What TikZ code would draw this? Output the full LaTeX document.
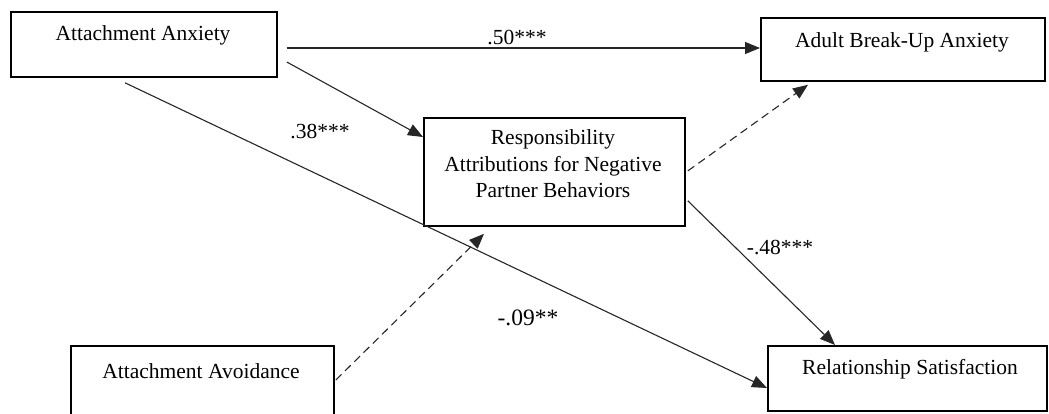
\documentclass[tikz,border=0pt]{standalone}
\usepackage{fontspec}
\setmainfont{Liberation Serif}
\usetikzlibrary{arrows.meta,calc}
\begin{document}
\begin{tikzpicture}[x=1pt,y=-1pt,
 box/.style={draw,line width=1.8pt,inner sep=0pt,anchor=north west},
 txt/.style={font=\fontsize{21.5}{26.5}\selectfont,inner sep=0pt,align=center},
 coef/.style={font=\fontsize{21.5}{24}\selectfont,inner sep=0pt},
 conn/.style={line width=1.1pt,draw=black!85,-{Triangle[length=15pt,width=12pt]}},
 dconn/.style={conn,dash pattern=on 8pt off 5pt}]
\useasboundingbox (0,0) rectangle (1049,414);
% boxes
\node[box,minimum width=266pt,minimum height=65pt] (aa) at (10,11) {};
\node[box,minimum width=284pt,minimum height=63pt] (aba) at (760,17) {};
\node[box,minimum width=261pt,minimum height=108pt] (resp) at (423,117) {};
\node[box,minimum width=263pt,minimum height=80pt] (av) at (70,345) {};
\node[box,minimum width=279pt,minimum height=65pt] (rs) at (767,345) {};
% texts
\node[txt] (taa) at (143,35) {Attachment Anxiety};
\node[txt] (taba) at (902,42) {Adult Break-Up Anxiety};
\node[txt] (tresp) at (553,164) {Responsibility\\Attributions for Negative\\Partner Behaviors};
\node[txt] (tav) at (201,371) {Attachment Avoidance};
\node[txt] (trs) at (910,369) {Relationship Satisfaction};
% start points
\coordinate (s1) at ($(aa.north east)+(9,37)$);
\coordinate (s2) at ($(aa.north east)+(9,51)$);
\coordinate (s3) at ($(aa.south west)+(115,5)$);
% connectors
\draw[conn] (s1) -- (aba.west |- s1);
\draw[conn] (s2) -- ($(resp.north west)+(0,20)$);
\draw[conn] (s3) -- ($(rs.north west)+(0,43)$);
\draw[dconn] ($(av.north east)+(1,35)$) -- ($(resp.south west)+(61,7)$);
\draw[dconn] ($(resp.east)+(2,-1)$) -- ($(aba.south west)+(48,3)$);
\draw[conn] ($(resp.south east)+(2,-26)$) -- ($(rs.north west)+(68,0)$);
% coefficients
\node[coef] (c50) at (517,38) {.50***};
\node[coef] (c38) at (320,132) {.38***};
\node[coef] (c48) at (780,248) {-.48***};
\node[coef,font=\fontsize{23.5}{26}\selectfont] (c09) at (528,318) {-.09**};
\end{tikzpicture}
\end{document}
